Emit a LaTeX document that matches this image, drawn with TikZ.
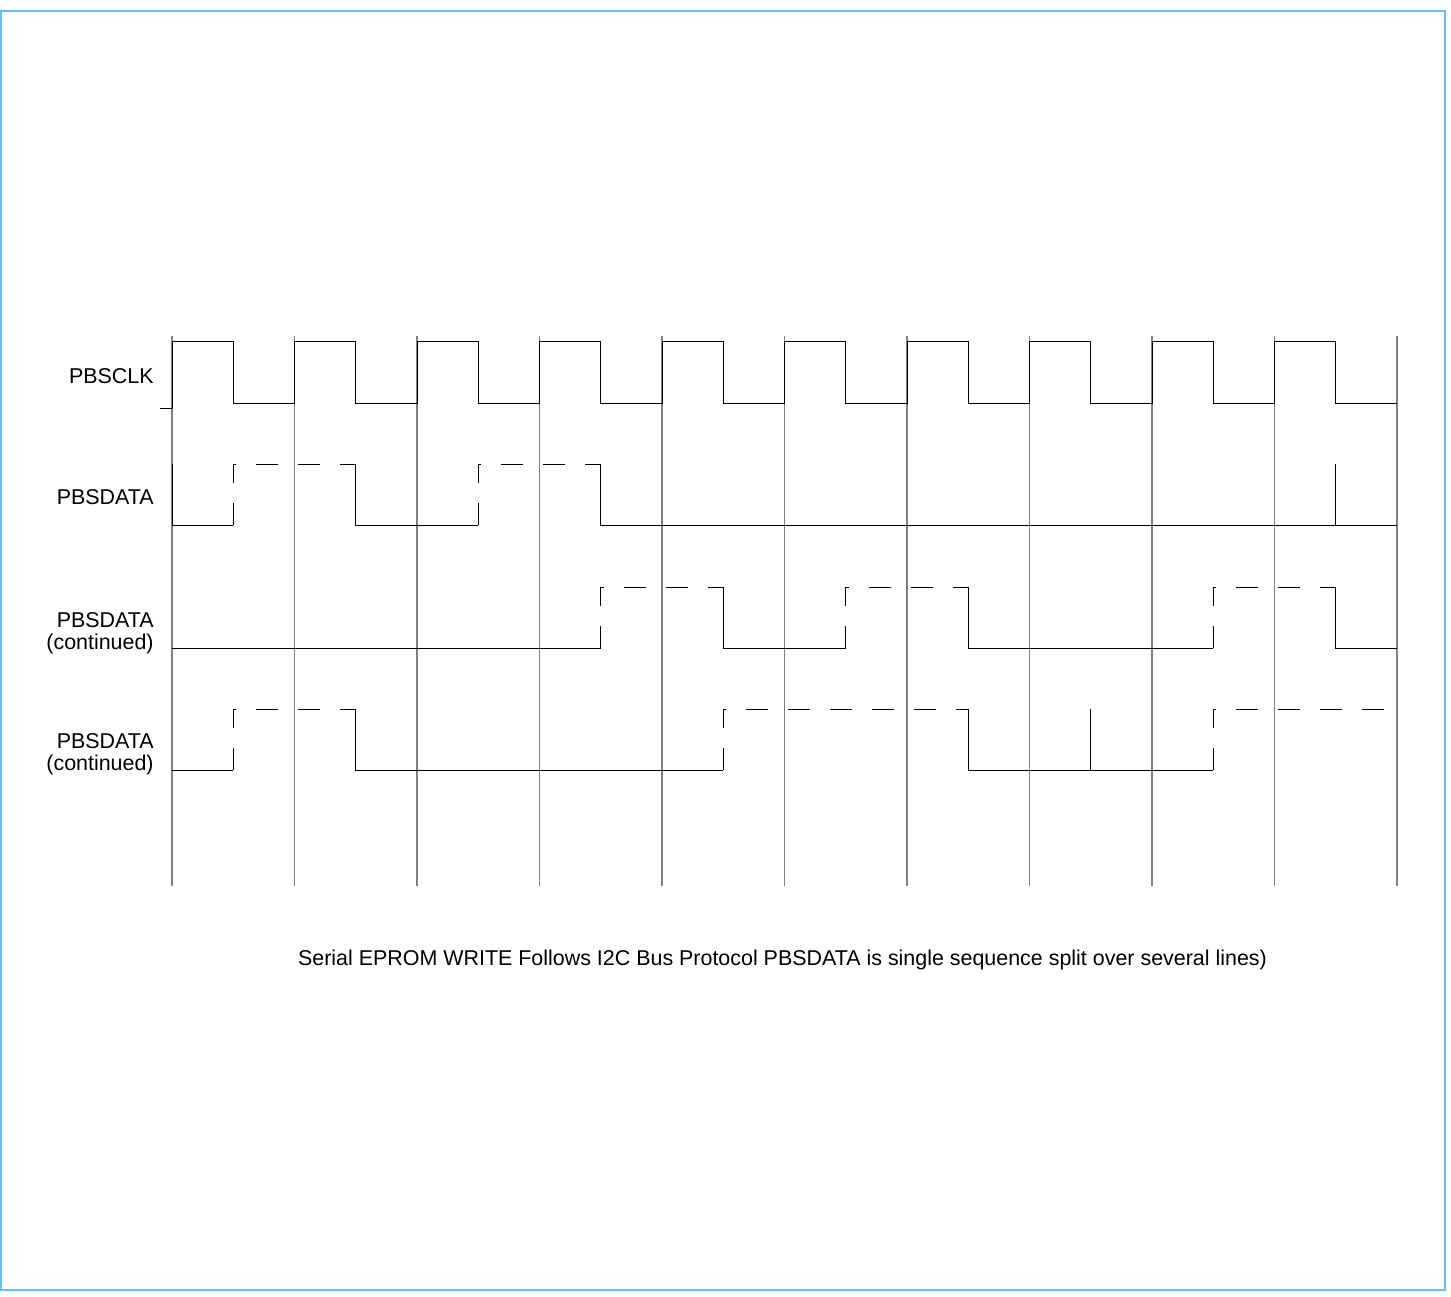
\documentclass[tikz,border=0pt]{standalone}
\usepackage{fontspec}
\setmainfont{Liberation Sans}
\definecolor{framebl}{RGB}{102,192,255}

\begin{document}
\begin{tikzpicture}[x=0.02cm,y=-0.02cm,every node/.style={font=\fontsize{12.2}{12.7}\selectfont,inner sep=0pt},grid/.style={gray,line width=0.8pt},wave/.style={black,line width=0.55pt},unk/.style={wave,dash pattern=on 0.44cm off 0.4cm},label/.style={anchor=east,align=right}]
\useasboundingbox (0,0) rectangle (1451,1296);
\draw[framebl,line width=1.4pt] (1,11) rectangle (1445,1290);
% time grid
\foreach \i in {0,...,10} \draw[grid] (172+122.5*\i,336)--(172+122.5*\i,886);
% signal names
\node[label] (clk) at (154,376) {PBSCLK};
\node[label] (dat) at (154,497) {PBSDATA};
\node[label] (datb) at (154,633) {PBSDATA\\(continued)};
\node[label] (datc) at (154,754) {PBSDATA\\(continued)};
% clock
\draw[wave] (160,408)--(172,408) \foreach \i in {0,...,9}{--(172+122.5*\i,341)--(233.25+122.5*\i,341)--(233.25+122.5*\i,403)--(294.5+122.5*\i,403)};
% data, first line
\draw[wave] (172,464)--(172,525)--(233.25,525);\draw[unk] (233.25,525)--(233.25,464)--(355.75,464);
\draw[wave] (355.75,464)--(355.75,525)--(478.25,525);\draw[unk] (478.25,525)--(478.25,464)--(600.75,464);
\draw[wave] (600.75,464)--(600.75,525)--(1397,525);\draw[wave] (1335.75,464)--(1335.75,525);
% data, second line
\draw[wave] (172,648)--(600.75,648);\draw[unk] (600.75,648)--(600.75,587)--(723.25,587);
\draw[wave] (723.25,587)--(723.25,648)--(845.75,648);\draw[unk] (845.75,648)--(845.75,587)--(968.25,587);
\draw[wave] (968.25,587)--(968.25,648)--(1213.25,648);\draw[unk] (1213.25,648)--(1213.25,587)--(1335.75,587);
\draw[wave] (1335.75,587)--(1335.75,648)--(1397,648);
% data, third line
\draw[wave] (172,770)--(233.25,770);\draw[unk] (233.25,770)--(233.25,709)--(355.75,709);
\draw[wave] (355.75,709)--(355.75,770)--(723.25,770);\draw[unk] (723.25,770)--(723.25,709)--(968.25,709);
\draw[wave] (968.25,709)--(968.25,770)--(1213.25,770);\draw[wave] (1090.75,709)--(1090.75,770);
\draw[unk] (1213.25,770)--(1213.25,709)--(1397,709);
\node (note) at (782.5,960) {Serial EPROM WRITE Follows I2C Bus Protocol PBSDATA is single sequence split over several lines)};
\end{tikzpicture}
\end{document}
